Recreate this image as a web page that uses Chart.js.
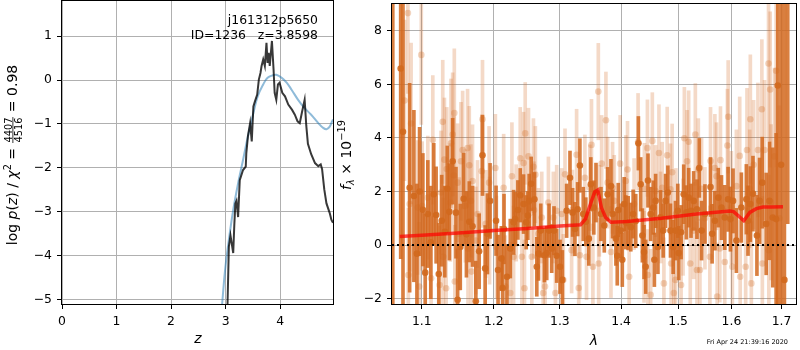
<!DOCTYPE html>
<html>
<head>
<meta charset="utf-8">
<script src="https://cdn.jsdelivr.net/npm/chart.js@4.4.0/dist/chart.umd.min.js"></script>
<style>
  body { margin: 0; background: #fff; }
  #wrap { position: relative; width: 800px; height: 350px; }
  canvas { position: absolute; top: 0; }
  #pz { left: 0; }
  #spec { left: 334px; }
</style>
</head>
<body>
<div id="wrap">
  <canvas id="pz" width="334" height="350"></canvas>
  <canvas id="spec" width="466" height="350"></canvas>
</div>
<script>
// ---- redshift panel: log p(z) and the template fit chi2 curve ----
const pzZ = [3.03, 3.06, 3.09, 3.11, 3.14, 3.16, 3.18, 3.20, 3.23, 3.26,
  3.32, 3.37, 3.38, 3.41, 3.45, 3.48, 3.51, 3.54, 3.58, 3.61,
  3.64, 3.66, 3.69, 3.72, 3.75, 3.77, 3.79, 3.81, 3.85, 3.88,
  3.90, 3.93, 3.96, 3.99, 4.04, 4.09, 4.15, 4.22, 4.27, 4.32,
  4.36, 4.40, 4.45, 4.48, 4.51, 4.57, 4.64, 4.70, 4.745, 4.77,
  4.81, 4.85, 4.91, 4.94, 4.97];
const pzLog = [-5.4, -3.80, -3.54, -3.70, -3.94, -3.30, -2.81, -2.75, -3.12, -2.28,
  -2.05, -1.97, -1.67, -1.28, -0.98, -1.40, -0.60, -0.48, -0.33, 0.01,
  0.16, 0.32, 0.47, 0.32, 0.85, 0.39, 0.62, 0.32, 0.89, 0.24,
  -0.29, -0.45, -0.10, -0.06, -0.29, -0.37, -0.56, -0.68, -0.79, -0.94,
  -0.98, -0.74, -0.45, -1.04, -1.45, -1.69, -1.89, -1.96, -1.92, -2.03,
  -2.49, -2.81, -3.03, -3.18, -3.25];
const fitZ = [2.93, 2.99, 3.05, 3.14, 3.23, 3.32, 3.41, 3.51, 3.59, 3.69,
  3.77, 3.87, 3.93, 4.03, 4.12, 4.21, 4.33, 4.45, 4.57, 4.70,
  4.79, 4.85, 4.91, 4.95, 4.97];
const fitLog = [-5.2, -4.34, -3.73, -2.96, -2.35, -1.82, -1.28, -0.75, -0.37, -0.10,
  0.05, 0.11, 0.12, 0.05, -0.06, -0.22, -0.45, -0.64, -0.79, -0.98,
  -1.09, -1.12, -1.06, -0.95, -0.90];
const zTicks = [0, 1, 2, 3, 4];
const logpTicks = [-5, -4, -3, -2, -1, 0, 1];

// ---- spectrum panel ----
// grism 1 (darker), flux and 1-sigma errors, units of 1e-19
const darkWave = [1.0620, 1.0722, 1.0752, 1.0839, 1.0895, 1.0935, 1.0970, 1.1014, 1.1045, 1.1080,
  1.1120, 1.1160, 1.1192, 1.1228, 1.1268, 1.1310, 1.1345, 1.1372, 1.1418, 1.1464,
  1.1487, 1.1524, 1.1571, 1.1610, 1.1650, 1.1696, 1.1743, 1.1790, 1.1838, 1.1876,
  1.1909, 1.1947,
  1.2034, 1.2063, 1.2111, 1.2130, 1.2150, 1.2194, 1.2243, 1.2292, 1.2317, 1.2356,
  1.2391, 1.2441, 1.2481, 1.2506, 1.2526, 1.2556, 1.2606, 1.2642, 1.2667, 1.2703,
  1.2759, 1.2795, 1.2831, 1.2872, 1.2908, 1.2950, 1.3002, 1.3039, 1.3107, 1.3160,
  1.3202, 1.3239, 1.3282, 1.3319, 1.3373, 1.3415, 1.3464, 1.3496, 1.3545,
  1.3581, 1.3663, 1.3718, 1.3773, 1.3829, 1.3856, 1.3912, 1.3935, 1.3951, 1.3996,
  1.4020, 1.4052, 1.4080, 1.4120, 1.4165, 1.4205, 1.4250, 1.4296, 1.4336, 1.4365,
  1.4394, 1.4423, 1.4463, 1.4510, 1.4556, 1.4575, 1.4597, 1.4638, 1.4685, 1.4732,
  1.4774, 1.4815, 1.4862, 1.4910, 1.4952, 1.4994, 1.5010, 1.5054, 1.5102, 1.5151,
  1.5193, 1.5236, 1.5285, 1.5346,
  1.5389, 1.5432, 1.5495, 1.5600, 1.5630, 1.5682, 1.5747, 1.5808, 1.5871, 1.5935,
  1.5980, 1.6031, 1.6096, 1.6193, 1.6291, 1.6324, 1.6370, 1.6422, 1.6501, 1.6554,
  1.6607, 1.6687, 1.6754, 1.6821, 1.6889, 1.6923, 1.6991, 1.7059, 1.7128];
const darkFlux = [10.5, 6.59, 4.23, 2.14, 1.83, -0.32, 2.00, 1.32, -1.03, 1.16,
  0.10, 1.90, 1.12, -1.08, 0.91, 0.50, 2.10, 1.24, 3.13, 1.21,
  -2.04, -0.07, 1.73, 0.40, 0.87, 0.70, -2.10, -0.23, 3.35, -0.87,
  0.42, 1.65,
  0.91, -0.93, -0.50, -1.60, 0.60, -1.18, -0.13, 0.85, 0.97, 1.31,
  1.86, 1.53, 0.85, 1.10, 1.65, 2.29, 1.71, -0.81, -0.32, 0.54,
  -0.38, -0.30, 0.54, -0.13, 0.54, -0.40, -0.81, -1.30, 1.28, 2.51,
  1.22, 0.60, 1.34, 2.97, 1.16, 0.87, 0.24, 2.27, 1.40,
  1.96, 1.16, 0.73, 1.90, 2.20, 1.16, 0.24, -0.40, 1.31, 0.54,
  -0.55, 1.53, 0.85, 0.82, 0.67, 1.16, 0.90, 3.80, 2.27, 0.36,
  -0.26, -0.81, 2.41, 1.16, 1.40, -0.55, 1.65, -0.07, 1.04, 0.54,
  1.65, 1.96, 0.54, -0.07, 0.54, 1.28, -0.30, 0.48, 1.90, 1.22,
  1.77, 1.28, 1.65, 1.34,
  2.88, 0.54, 1.16, 2.17, 0.42, 0.91, 1.77, 1.40, 1.03, 1.71,
  0.97, 1.65, 0.17, 1.40, 1.71, 0.91, 1.53, 1.92, 0.36, 1.65,
  2.33, 0.79, 1.65, 1.03, 0.97, 5.96, 3.00, -1.30, 10.5];
const darkErr = [13.0, 7.1, 8.0, 3.9, 3.2, 2.6, 2.4, 2.1, 2.2, 2.0,
  2.1, 1.9, 1.8, 1.9, 1.7, 1.7, 1.6, 1.8, 1.6, 1.7,
  1.9, 1.6, 1.7, 1.6, 1.5, 1.5, 1.5, 1.4, 1.5, 1.6,
  1.5, 1.4,
  1.3, 1.3, 1.2, 1.2, 1.3, 1.2, 1.1, 1.2, 1.0, 1.1,
  1.0, 1.1, 1.0, 0.9, 1.0, 1.0, 1.0, 1.1, 1.0, 1.0,
  1.0, 1.0, 1.0, 0.9, 0.9, 1.0, 1.0, 1.1, 1.0, 1.0,
  0.9, 1.0, 1.0, 1.0, 1.0, 0.9, 1.0, 1.0, 1.0,
  1.1, 1.0, 1.0, 1.0, 1.0, 0.9, 1.0, 1.1, 1.0, 1.0,
  1.0, 1.0, 1.0, 1.0, 0.9, 0.9, 1.0, 1.0, 1.0, 1.0,
  1.0, 1.0, 1.0, 1.0, 1.0, 1.0, 1.0, 1.0, 1.0, 1.0,
  1.0, 1.0, 1.0, 1.0, 1.1, 1.0, 1.0, 1.0, 1.1, 1.0,
  1.1, 1.0, 1.1, 1.1,
  1.1, 1.1, 1.1, 1.1, 1.1, 1.1, 1.1, 1.2, 1.2, 1.2,
  1.2, 1.2, 1.2, 1.3, 1.3, 1.3, 1.4, 1.4, 1.5, 1.6,
  1.7, 1.9, 2.2, 2.6, 3.2, 9.0, 10.0, 12.0, 9.7];

// grism 2 (faint), same units
const lightWave = [1.0772, 1.0816, 1.0822, 1.0839, 1.0858, 1.0945, 1.0965, 1.0993, 1.1004, 1.1080,
  1.1124, 1.1147, 1.1239, 1.1259, 1.1282, 1.1290, 1.1305, 1.1328, 1.1337, 1.1386,
  1.1395, 1.1418, 1.1436, 1.1441, 1.1448, 1.1487, 1.1511, 1.1534, 1.1557, 1.1594,
  1.1626, 1.1632, 1.1650, 1.1673, 1.1680, 1.1696, 1.1743, 1.1767, 1.1828, 1.1838,
  1.1885, 1.1933, 1.1940,
  1.2024, 1.2040, 1.2145, 1.2170, 1.2243, 1.2267, 1.2292, 1.2330, 1.2391, 1.2416,
  1.2441, 1.2455, 1.2466, 1.2516, 1.2566, 1.2591, 1.2600, 1.2620, 1.2667, 1.2718,
  1.2740, 1.2769, 1.2821, 1.2898, 1.2930, 1.2950, 1.3028, 1.3054, 1.3081, 1.3186,
  1.3200, 1.3266, 1.3300, 1.3319, 1.3400, 1.3426, 1.3480, 1.3507, 1.3530,
  1.3619, 1.3625, 1.3636, 1.3674, 1.3745, 1.3773, 1.3829, 1.3856, 1.3884, 1.3984,
  1.4080, 1.4109, 1.4137, 1.4222, 1.4290, 1.4394, 1.4400, 1.4453, 1.4460, 1.4510,
  1.4539, 1.4597, 1.4656, 1.4685, 1.4714, 1.4744, 1.4803, 1.4862, 1.4874, 1.4892,
  1.4922, 1.4952, 1.4960, 1.5054, 1.5090, 1.5114, 1.5163, 1.5193, 1.5222, 1.5285,
  1.5316, 1.5346,
  1.5371, 1.5401, 1.5432, 1.5495, 1.5588, 1.5600, 1.5682, 1.5713, 1.5726, 1.5776,
  1.5789, 1.5871, 1.5922, 1.5937, 1.5999, 1.6018, 1.6096, 1.6161, 1.6170, 1.6278,
  1.6304, 1.6357, 1.6370, 1.6390, 1.6435, 1.6521, 1.6600, 1.6610, 1.6654, 1.6734,
  1.6740, 1.6768, 1.6788, 1.6855, 1.6889, 1.6957];
const lightFlux = [5.40, 8.66, -1.12, 1.53, 4.54, 1.40, -1.55, 7.10, 1.46, 1.77,
  -1.24, 3.93, -1.49, 1.96, 4.60, -0.44, 3.19, -1.61, 2.84, 1.59,
  3.80, 4.13, 2.60, 4.93, -1.36, 2.33, 0.42, 3.13, 3.55, 1.46,
  3.62, -0.13, 2.98, 1.65, -0.99, 2.39, 0.17, 1.16, 2.76, 4.70,
  0.79, 2.33, 0.54,
  2.88, -0.07, 2.14, -1.55, -1.79, 2.57, -0.44, 1.20, 3.24, -0.44,
  3.06, -1.61, 4.17, 3.31, -0.44, 2.92, 1.31, 2.63, 0.42, 1.03,
  -1.79, -1.55, 1.59, 1.03, -1.79, 1.28, 1.16, -1.30, 2.64, -0.19,
  1.20, 3.37, -1.60, -0.38, 2.51, -0.44, 2.14, 3.74, -0.81,
  5.73, -0.69, 1.28, 3.04, 4.66, 2.33, -0.26, 2.14, 1.65, 3.04,
  2.39, 2.82, -1.18, 1.53, 3.86, -0.44, 2.10, 3.62, -1.12, -1.86,
  3.89, 2.02, 3.44, 1.03, 2.14, -1.43, 3.35, 2.08, -0.69, 2.72,
  -1.79, -1.30, 1.16, -1.49, 0.67, 3.99, 3.13, 3.86, -0.69, 0.54,
  4.13, -0.93,
  2.82, -0.93, 2.10, 1.00, -0.44, 3.14, 2.88, 2.57, -1.92, -0.13,
  3.17, -0.63, 3.72, 4.79, 1.40, -0.81, 2.20, 3.33, -1.18, -0.81,
  3.55, 2.10, 4.70, -1.43, 3.00, 3.55, 5.07, -0.69, 3.55, 6.78,
  -0.19, 5.81, 1.60, 3.31, 6.51, 1.00];
const lightErr = [3.0, 3.0, 2.5, 2.5, 3.0, 2.5, 2.4, 2.6, 2.4, 2.3,
  2.3, 2.4, 2.2, 2.3, 2.3, 2.2, 2.3, 2.2, 2.3, 2.2,
  2.4, 2.3, 2.2, 2.4, 2.1, 2.2, 2.1, 2.2, 2.2, 2.1,
  2.2, 2.1, 2.2, 2.1, 2.0, 2.1, 2.0, 2.0, 2.1, 2.2,
  2.0, 2.1, 2.0,
  2.0, 1.9, 2.0, 1.9, 1.9, 2.0, 1.9, 1.8, 1.9, 1.8,
  1.9, 1.8, 1.9, 1.8, 1.8, 1.8, 1.8, 1.8, 1.7, 1.7,
  1.7, 1.7, 1.7, 1.7, 1.7, 1.7, 1.7, 1.7, 1.7, 1.6,
  1.6, 1.7, 1.6, 1.6, 1.6, 1.6, 1.6, 1.7, 1.6,
  1.8, 1.7, 1.7, 1.8, 1.8, 1.7, 1.7, 1.7, 1.7, 1.8,
  1.7, 1.8, 1.7, 1.7, 1.8, 1.7, 1.7, 1.8, 1.7, 1.7,
  1.8, 1.7, 1.8, 1.7, 1.7, 1.7, 1.8, 1.7, 1.7, 1.8,
  1.7, 1.7, 1.7, 1.8, 1.8, 1.9, 1.9, 1.9, 1.8, 1.8,
  1.9, 1.8,
  1.9, 1.9, 1.9, 1.9, 1.9, 2.0, 2.0, 2.0, 2.0, 2.0,
  2.0, 2.0, 2.1, 2.1, 2.1, 2.1, 2.1, 2.2, 2.1, 2.2,
  2.3, 2.2, 2.4, 2.3, 2.4, 2.5, 2.6, 2.5, 2.6, 2.9,
  2.8, 2.9, 2.9, 3.3, 3.6, 4.2];

// best-fit template
const modelWave = [1.071, 1.10, 1.15, 1.20, 1.25, 1.30, 1.333, 1.341, 1.350, 1.356,
  1.361, 1.367, 1.374, 1.383, 1.41, 1.47, 1.534, 1.597, 1.604, 1.613,
  1.624, 1.636, 1.649, 1.662, 1.68, 1.703];
const modelFlux = [0.32, 0.37, 0.45, 0.54, 0.62, 0.71, 0.76, 0.98, 1.60, 1.98,
  2.05, 1.40, 1.03, 0.85, 0.88, 1.00, 1.16, 1.27, 1.25, 1.10,
  0.91, 1.22, 1.36, 1.42, 1.42, 1.43];

const waveMin = 1.061, waveMax = 1.730;
const waveTicks = [1.1, 1.2, 1.3, 1.4, 1.5, 1.6, 1.7];
const fluxTicks = [-2, 0, 2, 4, 6, 8];

const objName = 'j161312p5650';
const objInfo = 'ID=1236   z=3.8598';
const stamp = 'Fri Apr 24 21:39:16 2020';

// ---- styling helpers ----
const FAM = '"DejaVu Sans"';
const FS = 12.4;   // tick labels and annotation
const LS = 14;     // axis labels
const fReg = FS + 'px ' + FAM;
const fLab = LS + 'px ' + FAM;
const fLabIt = 'italic ' + LS + 'px ' + FAM;
const fSm = (LS * 0.7).toFixed(1) + 'px ' + FAM;
const fSmIt = 'italic ' + (LS * 0.7).toFixed(1) + 'px ' + FAM;
const minus = v => (v < 0 ? '\u2212' + Math.abs(v) : String(v));

function axis(min, max, ticks, fmt, fit) {
  return {
    min, max, bounds: 'data', offset: false,
    afterBuildTicks: s => { s.ticks = ticks.map(v => ({ value: v })); },
    afterFit: s => {
      fit(s);
      // no extra room for labels hanging over the ends
      s.paddingTop = s.paddingBottom = s.paddingLeft = s.paddingRight = 0;
    },
    ticks: { font: { family: 'DejaVu Sans', size: FS }, color: '#000', padding: 5,
             maxRotation: 0, autoSkip: false, callback: fmt },
    grid: { color: '#b0b0b0', lineWidth: 1, tickLength: 5, tickColor: '#000',
            tickWidth: 1, offset: false },
    border: { display: false }
  };
}

// black box around the axes
const frame = {
  id: 'frame',
  afterDatasetsDraw(chart) {
    const { ctx, chartArea: a } = chart;
    ctx.save();
    ctx.strokeStyle = '#000';
    ctx.lineWidth = 1;
    ctx.strokeRect(Math.round(a.left) - 0.5, Math.round(a.top) - 0.5,
      Math.round(a.right - a.left) + 1, Math.round(a.bottom - a.top) + 1);
    ctx.restore();
  }
};

// draws a row of text pieces (with sub/superscripts and one fraction) centred on (cx, cy)
function drawRuns(ctx, runs, cx, cy, rotate) {
  ctx.save();
  ctx.translate(cx, cy);
  if (rotate) ctx.rotate(-Math.PI / 2);
  ctx.fillStyle = '#000';
  ctx.textBaseline = 'alphabetic';
  let total = 0;
  runs.forEach(r => {
    ctx.font = r.font;
    r.w = r.frac ? Math.max(ctx.measureText(r.frac[0]).width, ctx.measureText(r.frac[1]).width) + 2
                 : ctx.measureText(r.t).width;
    total += r.w;
  });
  let x = -total / 2;
  runs.forEach(r => {
    ctx.font = r.font;
    if (r.frac) {
      ctx.textAlign = 'center';
      ctx.fillText(r.frac[0], x + r.w / 2, -5.5);
      ctx.fillText(r.frac[1], x + r.w / 2, 5);
      ctx.fillRect(x + 0.5, -4.5, r.w - 1, 0.8);
      ctx.textAlign = 'left';
    } else {
      ctx.textAlign = 'left';
      ctx.fillText(r.t, x, r.dy || 0);
    }
    x += r.w;
  });
  ctx.restore();
}

const pzText = {
  id: 'pzText',
  afterDraw(chart) {
    const ctx = chart.ctx;
    ctx.save();
    ctx.fillStyle = '#000';
    ctx.font = fReg;
    ctx.textAlign = 'right';
    ctx.fillText(objName, 318, 24);
    ctx.fillText(objInfo, 318, 39);
    ctx.textAlign = 'center';
    ctx.font = fLabIt;
    ctx.fillText('z', 198, 343);
    ctx.restore();
    drawRuns(ctx, [
      { t: 'log ', font: fLab }, { t: 'p', font: fLabIt }, { t: '(', font: fLab },
      { t: 'z', font: fLabIt }, { t: ') / ', font: fLab }, { t: '\u03c7', font: fLabIt },
      { t: '2', font: fSm, dy: -6 }, { t: ' = ', font: fLab },
      { frac: ['4407', '4516'], font: fSm }, { t: ' = 0.98', font: fLab }
    ], 17, 155, true);
  }
};

const specText = {
  id: 'specText',
  afterDraw(chart) {
    const ctx = chart.ctx;
    ctx.save();
    ctx.fillStyle = '#000';
    ctx.font = fLabIt;
    ctx.textAlign = 'center';
    ctx.fillText('\u03bb', 594 - 334, 345);
    ctx.font = '6.5px ' + FAM;
    ctx.textAlign = 'right';
    ctx.fillText(stamp, 788 - 334, 344);
    ctx.restore();
    drawRuns(ctx, [
      { t: 'f', font: fLabIt }, { t: '\u03bb', font: fSmIt, dy: 3 },
      { t: ' \u00d7 10', font: fLab }, { t: '\u2212' + '19', font: fSm, dy: -6 }
    ], 17, 155, true);
  }
};

// ---- left: p(z) ----
new Chart(document.getElementById('pz'), {
  type: 'scatter',
  data: {
    datasets: [
      { data: pzZ.map((z, i) => ({ x: z, y: pzLog[i] })), showLine: true,
        borderColor: 'rgba(0,0,0,0.78)', borderWidth: 2, pointRadius: 0, tension: 0,
        clip: 0, order: 0 },
      { data: fitZ.map((z, i) => ({ x: z, y: fitLog[i] })), showLine: true,
        borderColor: 'rgba(31,119,180,0.5)', borderWidth: 2, pointRadius: 0, tension: 0.4,
        clip: 0, order: 1 }
    ]
  },
  options: {
    responsive: false, animation: false, events: [],
    layout: { padding: { top: 1, right: 1, left: 0, bottom: 0 } },
    plugins: { legend: { display: false }, tooltip: { enabled: false } },
    scales: {
      x: axis(0, 4.97, zTicks, v => minus(v), s => { s.height = 46; }),
      y: axis(-5.1, 1.8, logpTicks, v => minus(v), s => { s.width = 62; })
    }
  },
  plugins: [frame, pzText]
});

// ---- right: spectrum ----
const orange = 'rgba(210,105,30,';
const xAx = axis(waveMin, waveMax, waveTicks, v => v.toFixed(1), s => { s.height = 46; });
xAx.type = 'logarithmic';
const yAx = axis(-2.2, 9.0, fluxTicks, v => minus(v), s => { s.width = 58; });
yAx.stacked = false;

new Chart(document.getElementById('spec'), {
  type: 'bar',
  data: {
    datasets: [
      { type: 'line', data: [{ x: waveMin, y: 0 }, { x: waveMax, y: 0 }],
        borderColor: '#000', borderWidth: 2, borderDash: [2, 3], pointRadius: 0,
        clip: 0, order: 0 },
      { type: 'line', data: modelWave.map((w, i) => ({ x: w, y: modelFlux[i] })),
        borderColor: 'rgba(255,0,0,0.7)', borderWidth: 3.5, pointRadius: 0, tension: 0,
        clip: 0, order: 1 },
      { type: 'scatter', data: darkWave.map((w, i) => ({ x: w, y: darkFlux[i] })),
        backgroundColor: orange + '0.9)', borderWidth: 0, pointRadius: 3.3,
        clip: 0, order: 2 },
      { type: 'bar', stack: 'err', grouped: true, barThickness: 3,
        data: darkWave.map((w, i) => ({ x: w, y: [darkFlux[i] - darkErr[i], darkFlux[i] + darkErr[i]] })),
        backgroundColor: orange + '0.85)', borderWidth: 0, clip: 0, order: 3 },
      { type: 'scatter', data: lightWave.map((w, i) => ({ x: w, y: lightFlux[i] })),
        backgroundColor: orange + '0.28)', borderWidth: 0, pointRadius: 3.3,
        clip: 0, order: 4 },
      { type: 'bar', stack: 'err', grouped: true, barThickness: 3,
        data: lightWave.map((w, i) => ({ x: w, y: [lightFlux[i] - lightErr[i], lightFlux[i] + lightErr[i]] })),
        backgroundColor: orange + '0.25)', borderWidth: 0, clip: 0, order: 5 }
    ]
  },
  options: {
    responsive: false, animation: false, events: [],
    layout: { padding: { top: 1, right: 1, left: 0, bottom: 0 } },
    plugins: { legend: { display: false }, tooltip: { enabled: false } },
    scales: { x: xAx, y: yAx }
  },
  plugins: [frame, specText]
});
</script>
</body>
</html>
